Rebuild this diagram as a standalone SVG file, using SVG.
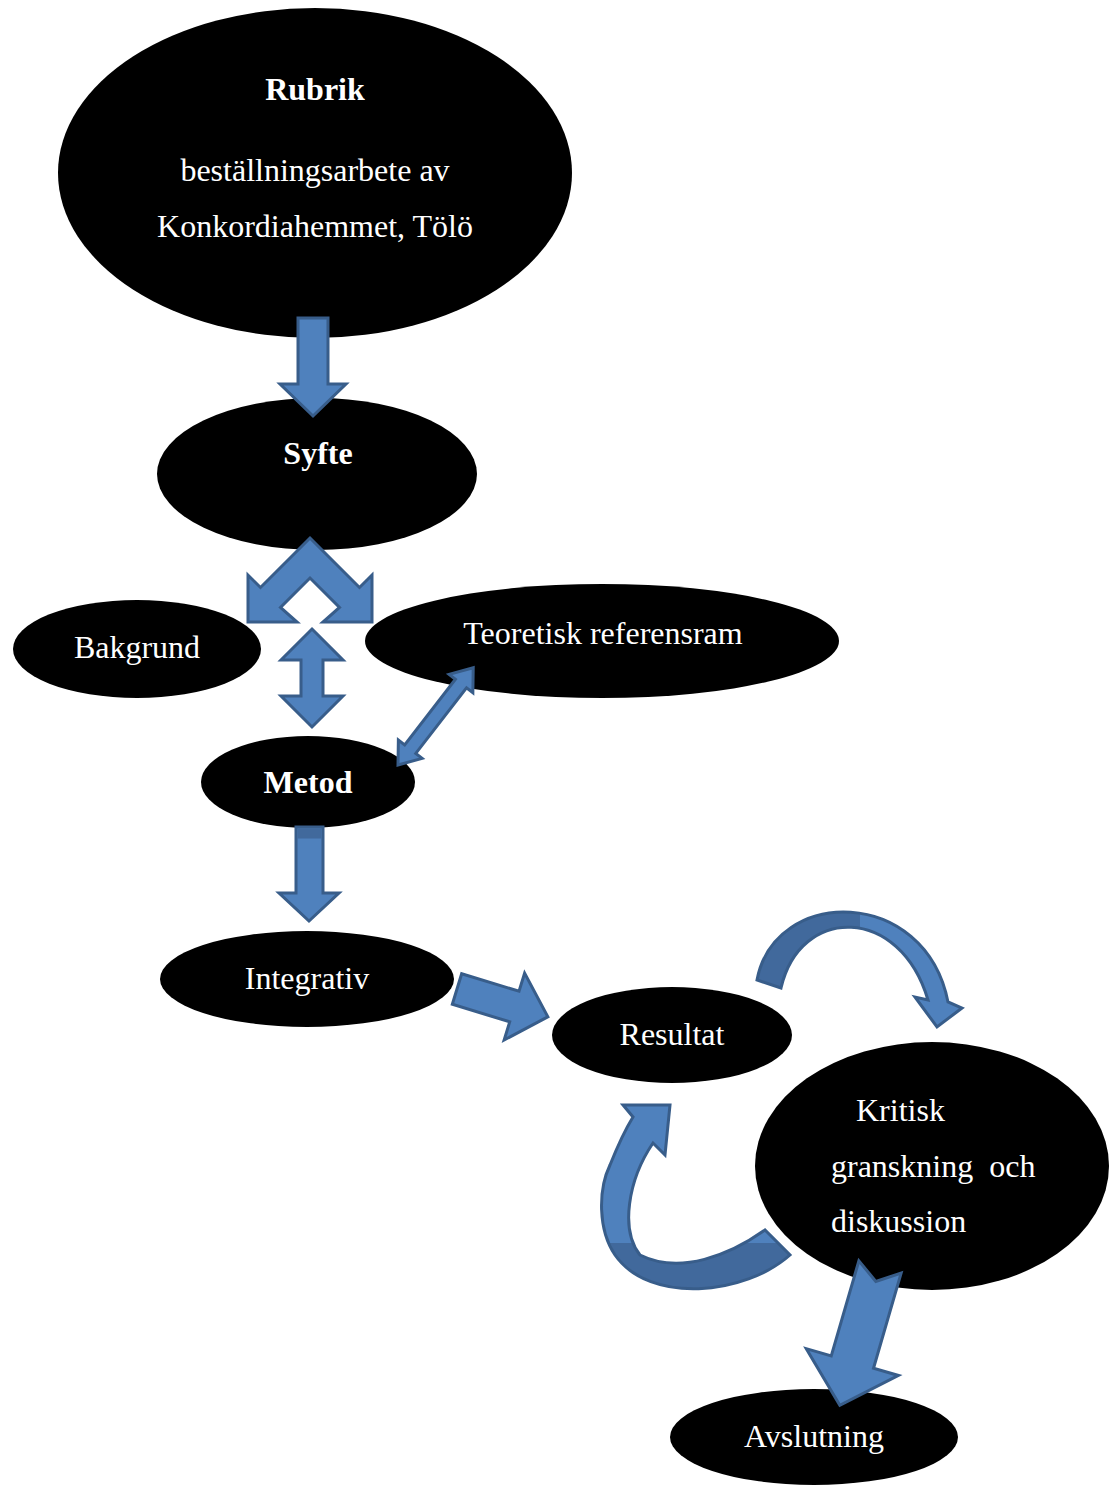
<svg xmlns="http://www.w3.org/2000/svg" width="1118" height="1486" viewBox="0 0 1118 1486">
<style>
.n{fill:#000}
.t{fill:#fff;font-family:"Liberation Serif","Times New Roman",serif;font-size:32px}
.c{text-anchor:middle}
.b{font-weight:bold}
.a{fill:#4F81BD;stroke:#385D8A;stroke-width:3;stroke-linejoin:miter}
</style>
<defs>
<linearGradient id="g1" gradientUnits="userSpaceOnUse" x1="757" y1="0" x2="962" y2="0">
<stop offset="0" stop-color="#41699C"/><stop offset="0.5" stop-color="#41699C"/><stop offset="0.5" stop-color="#4F81BD"/><stop offset="1" stop-color="#4F81BD"/>
</linearGradient>
<linearGradient id="g2" gradientUnits="userSpaceOnUse" x1="0" y1="1105" x2="0" y2="1292">
<stop offset="0" stop-color="#4F81BD"/><stop offset="0.74" stop-color="#4F81BD"/><stop offset="0.74" stop-color="#41699C"/><stop offset="1" stop-color="#41699C"/>
</linearGradient>
</defs>
<rect width="1118" height="1486" fill="#fff"/>
<g id="rubrik"><ellipse class="n" cx="315" cy="173" rx="257" ry="165"/>
<text class="t c b" x="315" y="100">Rubrik</text>
<text class="t c" x="315" y="181">beställningsarbete av</text>
<text class="t c" x="315" y="237">Konkordiahemmet, Tölö</text></g>
<g id="syfte"><ellipse class="n" cx="317" cy="474" rx="160" ry="76"/>
<text class="t c b" x="318" y="464">Syfte</text></g>
<g id="bakgrund"><ellipse class="n" cx="137" cy="649" rx="124" ry="49"/>
<text class="t c" x="137" y="658">Bakgrund</text></g>
<g id="teoretisk"><ellipse class="n" cx="602" cy="641" rx="237" ry="57"/>
<text class="t c" x="603" y="644">Teoretisk referensram</text></g>
<g id="metod"><ellipse class="n" cx="308" cy="782" rx="107" ry="46"/>
<text class="t c b" x="308" y="793">Metod</text></g>
<g id="integrativ"><ellipse class="n" cx="307" cy="979" rx="147" ry="48"/>
<text class="t c" x="307" y="989">Integrativ</text></g>
<g id="resultat"><ellipse class="n" cx="672" cy="1035" rx="120" ry="48"/>
<text class="t c" x="672" y="1045">Resultat</text></g>
<g id="kritisk"><ellipse class="n" cx="932" cy="1166" rx="177" ry="124"/>
<text class="t" x="856" y="1121">Kritisk</text>
<text class="t" x="831" y="1177" xml:space="preserve">granskning  och</text>
<text class="t" x="831" y="1232">diskussion</text></g>
<g id="avslutning"><ellipse class="n" cx="814" cy="1437" rx="144" ry="48"/>
<text class="t c" x="814" y="1447">Avslutning</text></g>
<g id="connectors">
<path class="a" d="M298,318 L328,318 L328,384 L346,384 L313,416 L280,384 L298,384 Z"/>
<path class="a" d="M310,538 L359.5,587.5 L372,575 L372,622 L323,622 L339.5,607.5 L310,578 L280.5,607.5 L297,622 L248,622 L248,575 L260.5,587.5 Z"/>
<path class="a" d="M312,629 L343,660 L323,660 L323,696 L343,696 L312,727 L281,696 L301,696 L301,660 L281,660 Z"/>
<path class="a" transform="translate(398,765) rotate(-52.3)" d="M0,0 L20,-15 L20,-7 L103,-7 L103,-15 L123,0 L103,15 L103,7 L20,7 L20,15 Z"/>
<path class="a" d="M296,827 L323,827 L323,893 L339,893 L309,921 L279,893 L296,893 Z"/>
<rect x="297.5" y="828.5" width="24" height="10" fill="#41699C"/>
<path class="a" transform="translate(457,989) rotate(17)" d="M0,-16 L60,-16 L60,-35 L95,0 L60,35 L60,16 L0,16 Z"/>
<path class="a" style="fill:url(#g1)" d="M757,980 C775,886 925,886 948,1002 L962,1008 L937,1027 L915,997 L928,1000 C900,905 800,905 781,988 Z"/>
<path class="a" style="fill:url(#g2)" d="M670,1105 L665,1155 L653,1143 C628,1180 620,1230 640,1255 C680,1275 730,1255 765,1230 L790,1255 C745,1295 650,1305 615,1255 C598,1230 598,1190 610,1165 C618,1145 625,1130 633,1117 L623,1105 Z"/>
<path class="a" transform="translate(880,1267) rotate(106.2)" d="M0,-22 L99,-22 L99,-48 L144,0 L99,48 L99,22 L0,22 L15,0 Z"/>
</g>
</svg>
